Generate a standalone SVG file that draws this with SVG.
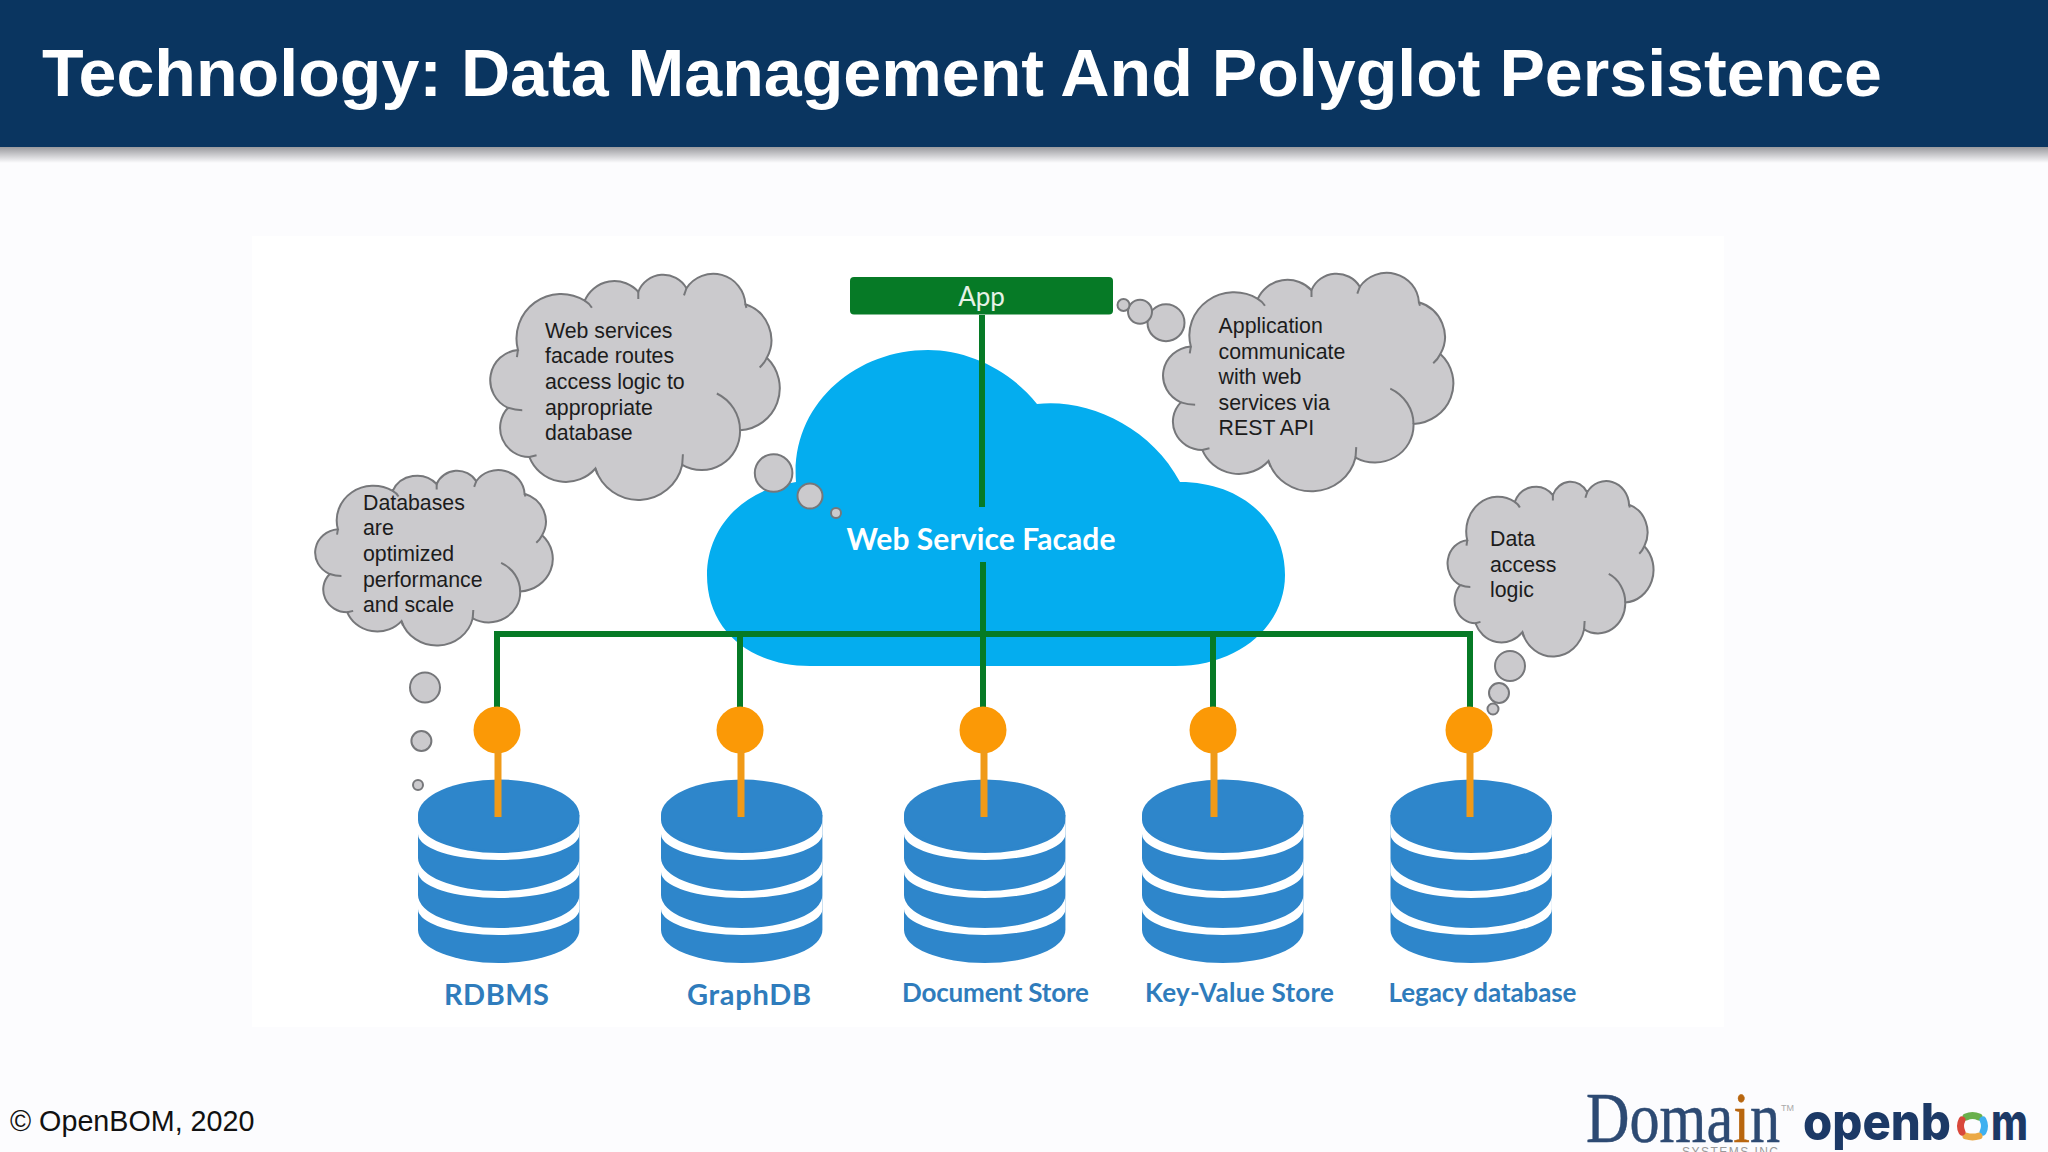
<svg xmlns="http://www.w3.org/2000/svg" width="2048" height="1152" viewBox="0 0 2048 1152">
<style>
.think{fill:#cbcacd;stroke:#76777a;stroke-width:2;vector-effect:non-scaling-stroke}
.tick{fill:none;stroke:#76777a;stroke-width:2;vector-effect:non-scaling-stroke}
.bub{fill:#cbcacd;stroke:#76777a;stroke-width:2}
.tt{font-family:"Liberation Sans",Arial,sans-serif;font-size:21.3px;fill:#1c1c1c}
.lbl{font-family:Lato,"Open Sans",sans-serif;font-weight:700;fill:#2f7cbc}
.bus{fill:none;stroke:#067a26;stroke-width:6}
.stem{fill:none;stroke:#f09a18;stroke-width:7}
.dot{fill:#fb9906}
</style>
<defs>
<linearGradient id="sh" x1="0" y1="0" x2="0" y2="1"><stop offset="0" stop-color="#9a9a9e"/><stop offset="1" stop-color="#fcfcfe"/></linearGradient>
<g id="cloudShape">
<path class="think" d="M68,210 A125,125 0 0 1 255,72 A90,90 0 0 1 405,47 A75,75 0 0 1 540,37 A90,90 0 0 1 705,82 A105,105 0 0 1 765,232 A118,118 0 0 1 690,435 A108,108 0 0 1 528,532 A126,126 0 0 1 285,542 A110,110 0 0 1 100,510 A82,82 0 0 1 40,372 A85,85 0 0 1 68,210 Z"/>
<path class="tick" d="M255,72 Q268,80 275,92 M405,47 L405,67 M540,37 L533,57 M705,82 L708,92 M765,232 Q758,247 745,259 M690,435 A115,115 0 0 0 625,332 M528,532 L530,502 M285,542 Q288,552 290,558 M100,510 L120,505 M40,372 Q60,379 80,379 M68,210 L65,230"/>
</g>
<g id="db">
<path fill="#2e86cb" d="M418,815 V930 A80.7,33 0 0 0 579.4,930 V815 Z"/>
<path fill="#fff" d="M418,820 A80.7,33 0 0 0 579.4,820 V834 A80.7,26 0 0 1 418,834 Z"/>
<path fill="#fff" d="M418,858 A80.7,33 0 0 0 579.4,858 V872 A80.7,26 0 0 1 418,872 Z"/>
<path fill="#fff" d="M418,895 A80.7,33 0 0 0 579.4,895 V909 A80.7,26 0 0 1 418,909 Z"/>
<ellipse cx="498.7" cy="815" rx="80.7" ry="35.5" fill="#2e86cb"/>
</g>
</defs>
<rect width="2048" height="1152" fill="#fcfcfe"/>
<rect y="147" width="2048" height="16" fill="url(#sh)"/>
<g id="header">
<rect width="2048" height="147" fill="#0a3560"/>
<text x="42" y="96" font-family="'Liberation Sans',Arial,sans-serif" font-weight="700" font-size="67.500" fill="#fff" textLength="1840" lengthAdjust="spacingAndGlyphs">Technology: Data Management And Polyglot Persistence</text>
</g>
<rect id="panel" x="252" y="236" width="1472" height="791" fill="#fff"/>

<g id="facade">
<path fill="#04adef" d="M796,482 C740,490 707,530 707,575 C707,630 750,666 810,666 L1175,666 C1240,666 1285,625 1285,575 C1285,520 1240,482 1180,482 C1150,425 1085,398 1037,404 C1010,370 968,350 928,350 C855,350 790,405 796,482 Z"/>
<text x="981" y="550" text-anchor="middle" font-family="Lato,'Open Sans',sans-serif" font-weight="700" font-size="30" fill="#fff" textLength="269">Web Service Facade</text>
</g>

<g id="connectors">
<path class="bus" d="M982,315 V507 M983,562 V634 M497,731 V634 H1470 V731 M740,634 V731 M983,634 V731 M1213,634 V731"/>
</g>

<g id="app">
<rect x="850" y="277" width="263" height="37.500" rx="4" fill="#067a26"/>
<text x="981.500" y="306" text-anchor="middle" font-family="Lato,'Open Sans',sans-serif" font-size="26" fill="#e6f2e6">App</text>
</g>

<g id="note-facade">
<use href="#cloudShape" transform="translate(493.700,275) scale(0.357)"/>
<circle class="bub" cx="773.600" cy="473" r="18.800"/>
<circle class="bub" cx="810" cy="496" r="12.500"/>
<circle class="bub" cx="836" cy="513" r="5"/>
<text class="tt" x="545" y="337.500">Web services</text>
<text class="tt" x="545" y="363.200">facade routes</text>
<text class="tt" x="545" y="388.900">access logic to</text>
<text class="tt" x="545" y="414.600">appropriate</text>
<text class="tt" x="545" y="440.300">database</text>
</g>

<g id="note-app">
<use href="#cloudShape" transform="translate(1166.500,274) scale(0.358,0.345)"/>
<circle class="bub" cx="1166" cy="322.700" r="18.500"/>
<circle class="bub" cx="1140" cy="311.700" r="12"/>
<circle class="bub" cx="1123.500" cy="305" r="6"/>
<text class="tt" x="1218.600" y="333">Application</text>
<text class="tt" x="1218.600" y="358.500">communicate</text>
<text class="tt" x="1218.600" y="384">with web</text>
<text class="tt" x="1218.600" y="409.500">services via</text>
<text class="tt" x="1218.600" y="435">REST API</text>
</g>

<g id="note-databases">
<use href="#cloudShape" transform="translate(318,471) scale(0.293,0.277)"/>
<circle class="bub" cx="425" cy="687.500" r="15"/>
<circle class="bub" cx="421.400" cy="741" r="10"/>
<circle class="bub" cx="418" cy="785" r="5"/>
<text class="tt" x="363" y="509.600">Databases</text>
<text class="tt" x="363" y="535.300">are</text>
<text class="tt" x="363" y="561">optimized</text>
<text class="tt" x="363" y="586.700">performance</text>
<text class="tt" x="363" y="612.400">and scale</text>
</g>

<g id="note-access">
<use href="#cloudShape" transform="translate(1450,482) scale(0.254,0.277)"/>
<circle class="bub" cx="1510" cy="666" r="15"/>
<circle class="bub" cx="1499" cy="693" r="10"/>
<circle class="bub" cx="1493" cy="709" r="5.500"/>
<text class="tt" x="1490" y="546">Data</text>
<text class="tt" x="1490" y="571.700">access</text>
<text class="tt" x="1490" y="597.400">logic</text>
</g>

<g id="rdbms">
<use href="#db"/>
<circle class="dot" cx="497" cy="730" r="23.500"/>
<path class="stem" d="M498,750 V817"/>
<text class="lbl" x="444" y="1005" font-size="29" textLength="105">RDBMS</text>
</g>
<g id="graphdb">
<use href="#db" x="243"/>
<circle class="dot" cx="740" cy="730" r="23.500"/>
<path class="stem" d="M741,750 V817"/>
<text class="lbl" x="687" y="1005" font-size="29" textLength="124">GraphDB</text>
</g>
<g id="document-store">
<use href="#db" x="486"/>
<circle class="dot" cx="983" cy="730" r="23.500"/>
<path class="stem" d="M984,750 V817"/>
<text class="lbl" x="902" y="1002" font-size="26" textLength="187">Document Store</text>
</g>
<g id="key-value-store">
<use href="#db" x="724"/>
<circle class="dot" cx="1213" cy="730" r="23.500"/>
<path class="stem" d="M1214,750 V817"/>
<text class="lbl" x="1145" y="1002" font-size="26" textLength="189">Key-Value Store</text>
</g>
<g id="legacy-database">
<use href="#db" x="972.500"/>
<circle class="dot" cx="1469" cy="730" r="23.500"/>
<path class="stem" d="M1470,750 V817"/>
<text class="lbl" x="1388.500" y="1002" font-size="26" textLength="188">Legacy database</text>
</g>

<g id="footer">
<text x="10" y="1131" font-family="'Liberation Sans',Arial,sans-serif" font-size="28.700" fill="#111">© OpenBOM, 2020</text>
</g>
<g id="logo-domain">
<text x="1586" y="1142" font-family="'Liberation Serif','Times New Roman',serif" font-size="71" fill="#2d4a73" stroke="#2d4a73" stroke-width="0.500" textLength="194" lengthAdjust="spacingAndGlyphs">Doma<tspan fill="#b8660f" stroke="#b8660f">i</tspan>n</text>
<text x="1781" y="1111" font-family="'Liberation Sans',Arial,sans-serif" font-size="9" fill="#aaa">TM</text>
<text x="1682" y="1156" font-family="'Liberation Sans',Arial,sans-serif" font-size="12" fill="#999" textLength="96">SYSTEMS INC</text>
</g>
<g id="logo-openbom">
<text y="1140" font-family="Inter,'DejaVu Sans',sans-serif" font-weight="800" font-size="51" fill="#1c3966"><tspan x="1803" textLength="148" lengthAdjust="spacingAndGlyphs">openb</tspan><tspan x="1956" fill="none">o</tspan><tspan x="1991" textLength="37" lengthAdjust="spacingAndGlyphs">m</tspan></text>
<g fill="none" stroke-width="7" stroke-linecap="round">
<path stroke="#6ab04c" d="M1966,1117 Q1972.500,1114 1979,1117"/>
<path stroke="#3fb0f0" d="M1983,1120 Q1986,1126 1983,1132"/>
<path stroke="#eba946" d="M1979,1136 Q1972.500,1138 1966,1136"/>
<path stroke="#d9483b" d="M1962,1132 Q1959,1126 1962,1120"/>
</g>
</g>
</svg>
